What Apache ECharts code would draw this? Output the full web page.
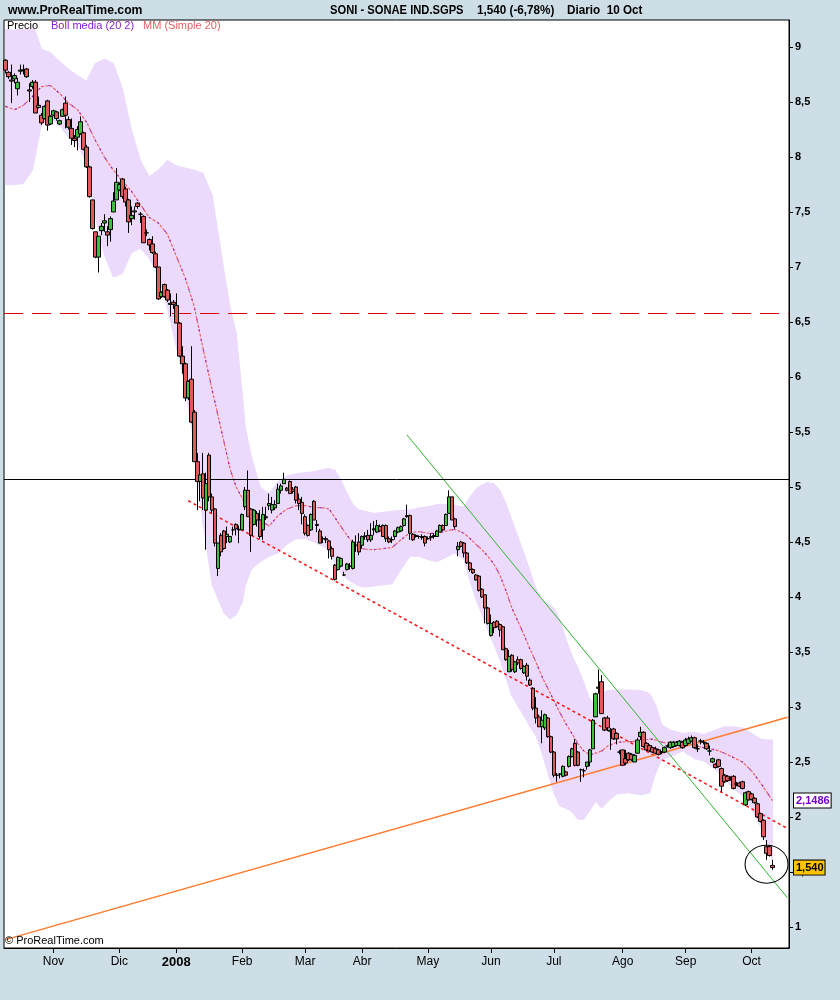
<!DOCTYPE html>
<html>
<head>
<meta charset="utf-8">
<script src="https://cdn.jsdelivr.net/npm/echarts@6/dist/echarts.min.js"></script>
<style>
  html, body { margin: 0; padding: 0; background: #cedee6; }
  #chart { width: 840px; height: 1000px; }
</style>
</head>
<body>
<div id="chart"></div>
<script>
// SONAE IND.SGPS (SONI), daily bars from 10 Oct 2007 to 10 Oct 2008
const opens = [8.88,8.77,8.70,8.71,8.62,8.78,8.79,8.80,8.61,8.64,
  8.68,8.45,8.38,8.35,8.51,8.30,8.38,8.41,8.30,8.37,
  8.49,8.34,8.26,8.17,8.18,8.21,8.22,8.09,7.91,7.61,
  7.32,7.09,7.33,7.40,7.32,7.34,7.50,7.61,7.70,7.80,
  7.71,7.61,7.44,7.50,7.58,7.48,7.46,7.31,7.25,7.21,
  7.12,7.00,6.73,6.84,6.79,6.67,6.68,6.65,6.49,6.19,
  6.12,5.81,5.98,5.68,5.23,5.05,5.12,4.79,5.29,4.91,
  4.80,4.26,4.56,4.60,4.55,4.50,4.61,4.66,4.615,4.61,
  4.82,4.97,4.80,4.66,4.76,4.70,4.61,4.73,4.83,4.79,
  4.81,4.85,4.97,5.03,4.99,5.05,4.98,5.00,4.89,4.86,
  4.73,4.65,4.61,4.87,4.66,4.60,4.53,4.53,4.51,4.44,
  4.29,4.25,4.28,4.20,4.25,4.28,4.26,4.47,4.50,4.47,
  4.55,4.56,4.52,4.61,4.59,4.64,4.65,4.65,4.53,4.52,
  4.55,4.59,4.60,4.65,4.74,4.74,4.57,4.56,4.55,4.55,
  4.55,4.53,4.54,4.55,4.55,4.59,4.65,4.65,4.76,4.91,
  4.71,4.43,4.50,4.49,4.40,4.31,4.25,4.20,4.19,4.07,
  4.02,3.90,3.65,3.77,3.78,3.75,3.73,3.53,3.32,3.47,
  3.32,3.43,3.43,3.31,3.38,3.245,3.17,2.99,2.91,2.82,
  2.81,2.90,2.73,2.59,2.38,2.39,2.37,2.41,2.46,2.55,
  2.67,2.59,2.43,2.42,2.46,2.50,2.62,2.91,3.18,3.23,
  2.90,2.90,2.79,2.80,2.76,2.59,2.61,2.53,2.58,2.57,
  2.50,2.58,2.73,2.77,2.67,2.65,2.63,2.62,2.61,2.59,
  2.59,2.645,2.63,2.64,2.65,2.65,2.68,2.65,2.67,2.69,
  2.72,2.62,2.69,2.68,2.67,2.60,2.50,2.48,2.52,2.44,
  2.38,2.37,2.35,2.37,2.30,2.31,2.32,2.11,2.23,2.21,
  2.17,2.12,2.03,1.97,1.73,1.73,1.56];
const closes = [8.79,8.73,8.69,8.74,8.68,8.79,8.79,8.73,8.60,8.68,
  8.40,8.47,8.31,8.46,8.29,8.37,8.42,8.35,8.33,8.43,
  8.38,8.27,8.17,8.15,8.25,8.32,8.07,7.91,7.64,7.35,
  7.09,7.28,7.37,7.42,7.29,7.44,7.60,7.77,7.75,7.64,
  7.59,7.41,7.47,7.51,7.55,7.48,7.22,7.31,7.20,7.13,
  7.00,6.71,6.77,6.73,6.70,6.66,6.66,6.49,6.19,6.12,
  5.81,5.96,5.59,5.23,5.05,5.11,4.90,5.03,4.91,4.79,
  4.49,4.49,4.41,4.44,4.57,4.55,4.61,4.62,4.61,4.75,
  4.97,4.73,4.56,4.79,4.70,4.55,4.75,4.72,4.85,4.84,
  4.84,4.98,5.01,5.07,4.97,4.94,4.96,4.88,4.85,4.76,
  4.58,4.56,4.75,4.70,4.65,4.49,4.53,4.52,4.43,4.37,
  4.16,4.36,4.35,4.20,4.30,4.28,4.50,4.47,4.41,4.55,
  4.555,4.52,4.56,4.62,4.65,4.60,4.55,4.53,4.50,4.52,
  4.60,4.63,4.64,4.71,4.73,4.58,4.52,4.55,4.55,4.54,
  4.49,4.53,4.55,4.56,4.60,4.65,4.61,4.75,4.91,4.70,
  4.64,4.46,4.46,4.40,4.31,4.25,4.22,4.155,4.06,4.00,
  3.90,3.76,3.76,3.72,3.73,3.70,3.52,3.43,3.46,3.34,
  3.41,3.40,3.35,3.37,3.28,3.20,2.99,2.90,2.82,2.88,
  2.93,2.73,2.59,2.38,2.38,2.39,2.46,2.38,2.55,2.62,
  2.47,2.47,2.43,2.42,2.50,2.61,2.88,3.12,3.17,2.94,
  2.79,2.81,2.78,2.71,2.71,2.59,2.47,2.49,2.52,2.52,
  2.56,2.70,2.77,2.64,2.61,2.60,2.59,2.58,2.57,2.59,
  2.63,2.645,2.68,2.68,2.68,2.69,2.63,2.70,2.71,2.72,
  2.63,2.62,2.69,2.68,2.62,2.60,2.53,2.45,2.46,2.28,
  2.32,2.33,2.35,2.26,2.30,2.28,2.26,2.22,2.155,2.16,
  2.13,2.00,1.96,1.82,1.67,1.65,1.54];
const lows = [8.76,8.71,8.49,8.67,8.56,8.75,8.75,8.72,8.50,8.62,
  8.40,8.44,8.29,8.34,8.24,8.29,8.37,8.33,8.29,8.37,
  8.26,8.25,8.11,8.09,8.06,8.20,8.06,7.90,7.63,7.34,
  7.08,6.95,7.29,7.32,7.19,7.23,7.50,7.61,7.69,7.62,
  7.55,7.31,7.38,7.43,7.53,7.40,7.22,7.28,7.15,7.12,
  6.99,6.70,6.72,6.72,6.68,6.55,6.62,6.49,6.18,6.03,
  5.78,5.79,5.58,5.23,4.79,4.87,4.79,4.43,4.87,4.76,
  4.46,4.19,4.37,4.43,4.49,4.49,4.56,4.56,4.49,4.61,
  4.79,4.73,4.41,4.65,4.64,4.53,4.52,4.70,4.79,4.76,
  4.79,4.85,4.94,5.03,4.96,4.94,4.94,4.85,4.79,4.66,
  4.56,4.55,4.60,4.70,4.59,4.49,4.49,4.49,4.35,4.34,
  4.15,4.24,4.27,4.19,4.24,4.25,4.25,4.41,4.38,4.44,
  4.52,4.50,4.50,4.56,4.58,4.59,4.55,4.50,4.49,4.49,
  4.52,4.58,4.59,4.64,4.72,4.52,4.51,4.54,4.53,4.52,
  4.46,4.52,4.51,4.53,4.55,4.59,4.60,4.65,4.76,4.70,
  4.62,4.37,4.45,4.36,4.30,4.23,4.21,4.15,4.05,3.99,
  3.76,3.75,3.64,3.67,3.72,3.64,3.52,3.42,3.32,3.32,
  3.31,3.38,3.34,3.30,3.24,3.19,2.97,2.85,2.82,2.67,
  2.79,2.72,2.58,2.36,2.32,2.35,2.36,2.37,2.45,2.54,
  2.46,2.46,2.32,2.36,2.43,2.46,2.62,2.91,3.12,2.94,
  2.78,2.78,2.61,2.70,2.66,2.57,2.47,2.47,2.51,2.51,
  2.50,2.58,2.70,2.63,2.60,2.59,2.58,2.57,2.56,2.57,
  2.58,2.63,2.62,2.63,2.64,2.64,2.62,2.64,2.66,2.68,
  2.62,2.59,2.66,2.66,2.61,2.56,2.49,2.44,2.45,2.23,
  2.31,2.32,2.33,2.25,2.28,2.27,2.25,2.10,2.15,2.15,
  2.12,1.99,1.95,1.79,1.61,1.64,1.52];
const highs = [8.89,8.78,8.84,8.76,8.72,8.84,8.84,8.81,8.67,8.70,
  8.70,8.55,8.40,8.47,8.52,8.38,8.43,8.42,8.34,8.44,
  8.55,8.37,8.35,8.20,8.28,8.37,8.23,8.11,7.92,7.61,
  7.32,7.28,7.40,7.48,7.37,7.46,7.68,7.90,7.77,7.81,
  7.73,7.62,7.55,7.55,7.59,7.50,7.47,7.34,7.26,7.28,
  7.14,7.00,6.78,6.85,6.80,6.76,6.70,6.76,6.50,6.28,
  6.13,5.97,6.28,5.70,5.31,5.23,5.31,5.13,5.31,4.94,
  4.81,4.49,4.58,4.61,4.64,4.55,4.64,4.67,4.65,4.76,
  5.00,5.15,4.81,4.80,4.78,4.79,4.82,4.82,4.94,4.91,
  4.88,5.03,5.03,5.13,5.00,5.06,5.00,5.01,4.94,4.91,
  4.75,4.66,4.76,4.88,4.70,4.62,4.55,4.55,4.52,4.46,
  4.30,4.37,4.36,4.23,4.31,4.31,4.52,4.56,4.58,4.56,
  4.59,4.61,4.67,4.69,4.70,4.66,4.66,4.66,4.55,4.55,
  4.61,4.64,4.65,4.72,4.84,4.75,4.58,4.57,4.56,4.57,
  4.56,4.55,4.58,4.58,4.61,4.66,4.66,4.76,4.97,4.91,
  4.72,4.50,4.51,4.50,4.41,4.32,4.26,4.21,4.20,4.08,
  4.02,3.91,3.84,3.78,3.79,3.76,3.74,3.54,3.52,3.48,
  3.42,3.46,3.44,3.38,3.40,3.26,3.18,3.09,2.93,2.97,
  2.94,2.91,2.74,2.60,2.40,2.40,2.47,2.42,2.56,2.63,
  2.71,2.60,2.44,2.44,2.50,2.62,2.89,3.13,3.34,3.29,
  2.91,2.92,2.81,2.81,2.77,2.61,2.61,2.61,2.59,2.58,
  2.57,2.72,2.82,2.78,2.68,2.66,2.64,2.64,2.62,2.60,
  2.64,2.66,2.69,2.69,2.69,2.70,2.69,2.72,2.73,2.74,
  2.73,2.66,2.71,2.70,2.68,2.65,2.54,2.49,2.53,2.45,
  2.39,2.38,2.37,2.38,2.32,2.32,2.33,2.23,2.24,2.22,
  2.18,2.13,2.04,1.98,1.79,1.74,1.61];

// Bollinger bands (20, 2) and their middle line (simple 20-day average), by trading-day index
const bandDay = [0,3,6,9,12,15,18,21,24,27,
  30,33,36,39,42,45,48,51,54,57,
  60,63,66,69,71,73,75,77,79,80,
  82,85,88,91,94,97,100,103,106,108,
  110,112,114,116,118,120,123,126,129,132,
  135,138,141,144,147,150,153,155,157,159,
  161,163,165,167,169,171,173,175,177,179,
  181,183,185,187,189,191,193,195,197,199,
  201,204,208,212,215,217,219,222,226,230,
  233,237,240,243,246,249,252,254,256];
const bandUpper = [9.17,9.15,9.18,9.22,8.98,8.95,8.87,8.80,8.74,8.69,
  8.85,8.89,8.85,8.62,8.25,7.97,7.82,7.88,7.97,7.92,
  7.90,7.88,7.85,7.65,7.30,6.95,6.62,6.40,5.85,5.55,
  5.28,5.00,4.94,5.05,5.10,5.12,5.13,5.14,5.16,5.17,
  5.15,5.06,4.94,4.84,4.79,4.78,4.76,4.77,4.78,4.79,
  4.79,4.81,4.82,4.84,4.84,4.83,4.82,4.91,4.98,5.02,
  5.04,5.03,4.97,4.85,4.70,4.55,4.40,4.24,4.08,3.97,
  3.94,3.90,3.80,3.62,3.47,3.36,3.22,3.07,3.02,3.12,
  3.15,3.155,3.155,3.15,3.12,3.02,2.84,2.79,2.76,2.77,
  2.75,2.79,2.82,2.82,2.81,2.76,2.71,2.70,2.70];
const bandMid = [8.46,8.43,8.47,8.55,8.64,8.65,8.58,8.49,8.43,8.32,
  8.15,8.00,7.88,7.78,7.69,7.57,7.45,7.40,7.30,7.10,
  6.90,6.64,6.25,5.88,5.64,5.40,5.16,5.00,4.90,4.84,
  4.77,4.70,4.645,4.74,4.80,4.83,4.83,4.815,4.81,4.80,
  4.72,4.64,4.56,4.49,4.445,4.436,4.43,4.44,4.45,4.52,
  4.585,4.594,4.58,4.578,4.60,4.615,4.58,4.533,4.48,4.43,
  4.37,4.30,4.20,4.06,3.90,3.78,3.66,3.53,3.41,3.28,
  3.17,3.06,2.95,2.85,2.76,2.67,2.60,2.565,2.58,2.60,
  2.645,2.68,2.685,2.69,2.71,2.70,2.68,2.67,2.68,2.65,
  2.63,2.61,2.58,2.54,2.50,2.42,2.31,2.23,2.1486];
const bandLower = [7.75,7.75,7.76,7.88,8.30,8.35,8.29,8.18,8.12,7.95,
  7.45,7.11,6.91,6.94,7.13,7.17,7.08,6.92,6.63,6.28,
  5.90,5.40,4.65,4.11,3.98,3.85,3.80,3.84,3.95,4.10,
  4.25,4.32,4.37,4.40,4.48,4.53,4.53,4.50,4.46,4.43,
  4.30,4.22,4.16,4.13,4.10,4.09,4.10,4.11,4.12,4.25,
  4.37,4.37,4.34,4.32,4.36,4.40,4.34,4.15,3.98,3.84,
  3.70,3.57,3.43,3.27,3.10,3.01,2.92,2.82,2.74,2.59,
  2.40,2.22,2.10,2.08,2.05,1.98,1.98,2.06,2.14,2.08,
  2.14,2.21,2.22,2.20,2.22,2.40,2.52,2.55,2.60,2.53,
  2.51,2.43,2.34,2.26,2.19,2.08,1.91,1.76,1.60];

// horizontal levels and hand-drawn trend lines: [day index, price]
const resistanceLevel = 6.58;
const supportLevel = 5.07;
const redTrend = [[61, 4.875], [261, 1.896]];
const greenTrend = [[134, 5.473], [261, 1.265]];
const orangeTrend = [[0, 0.885], [261, 2.907]];
const circledPoint = [254, 1.571];

const yTicks = [1, 1.5, 2, 2.5, 3, 3.5, 4, 4.5, 5, 5.5, 6, 6.5, 7, 7.5, 8, 8.5, 9];
const monthNames = ['Ene','Feb','Mar','Abr','May','Jun','Jul','Ago','Sep','Oct','Nov','Dic'];
const holidays = ['2007-12-25','2007-12-26','2008-01-01','2008-03-21','2008-03-24','2008-05-01'];
const emptyDaysAfter = 5;

// trading calendar for the category axis
const tradingDays = [];
(function () {
  const d = new Date(Date.UTC(2007, 9, 10));
  while (tradingDays.length < closes.length) {
    const wd = d.getUTCDay();
    const s = d.toISOString().slice(0, 10);
    if (wd !== 0 && wd !== 6 && holidays.indexOf(s) < 0) tradingDays.push(s);
    d.setUTCDate(d.getUTCDate() + 1);
  }
})();
const categories = tradingDays.slice();
for (let i = 1; i <= emptyDaysAfter; i++) categories.push('+' + i);
const monthStart = new Set();
tradingDays.forEach((s, i) => {
  if (i > 0 && s.slice(5, 7) !== tradingDays[i - 1].slice(5, 7)) monthStart.add(i);
});

const comma = v => String(v).replace('.', ',');
const lastIdx = closes.length - 1;
const lastCloseText = closes[lastIdx].toFixed(3).replace('.', ',');
const lastMidText = comma(bandMid[bandMid.length - 1]);

const FONT = '"Liberation Sans", Arial, sans-serif';

// header pieces, squeezed horizontally to the narrow face of the terminal font
function headerText(x, text, scaleX) {
  return {
    type: 'text', x: x, y: 10, scaleX: scaleX, originX: 0, originY: 0, z: 100,
    style: { text: text, font: 'bold 13px ' + FONT, fill: '#000', verticalAlign: 'middle', align: 'left' }
  };
}

const chart = echarts.init(document.getElementById('chart'));
chart.setOption({
  animation: false,
  backgroundColor: '#cedee6',
  grid: {
    left: 4, right: 51, top: 20, bottom: 52,
    show: true, backgroundColor: '#ffffff', borderColor: '#000000', borderWidth: 1
  },
  xAxis: {
    type: 'category',
    data: categories,
    boundaryGap: true,
    axisLine: { show: true, lineStyle: { color: '#000', width: 1 } },
    axisTick: {
      show: true, alignWithLabel: true, length: 5,
      interval: (i) => monthStart.has(i),
      lineStyle: { color: '#000' }
    },
    axisLabel: {
      interval: (i) => monthStart.has(i),
      margin: 8,
      color: '#000',
      fontFamily: FONT,
      fontSize: 12,
      formatter: (value) => {
        const m = +value.slice(5, 7);
        return m === 1 ? '{y|' + value.slice(0, 4) + '}' : monthNames[m - 1];
      },
      rich: { y: { fontWeight: 'bold', fontSize: 13, fontFamily: FONT, color: '#000' } }
    },
    splitLine: { show: false }
  },
  yAxis: {
    type: 'value',
    position: 'right',
    min: 0.809,
    max: 9.2455,
    axisLine: { show: true, lineStyle: { color: '#000', width: 1 } },
    axisTick: { show: true, length: 4, customValues: yTicks, lineStyle: { color: '#000' } },
    axisLabel: {
      customValues: yTicks,
      formatter: (v) => comma(v),
      color: '#000', fontWeight: 'bold', fontSize: 11, fontFamily: FONT, margin: 6
    },
    splitLine: { show: false }
  },
  series: [
    {
      name: 'Boll bands',
      type: 'custom',
      silent: true,
      z: 1,
      data: bandDay.map((d, i) => [d, bandLower[i], bandUpper[i]]),
      encode: { x: 0, y: [1, 2] },
      renderItem: (params, api) => {
        const i = params.dataIndex;
        if (i >= bandDay.length - 1) return null;
        const a0 = api.coord([bandDay[i], bandUpper[i]]);
        const a1 = api.coord([bandDay[i + 1], bandUpper[i + 1]]);
        const b1 = api.coord([bandDay[i + 1], bandLower[i + 1]]);
        const b0 = api.coord([bandDay[i], bandLower[i]]);
        return {
          type: 'polygon',
          shape: { points: [a0, a1, b1, b0] },
          style: { fill: '#ebdafc', stroke: '#ebdafc', lineWidth: 1 }
        };
      }
    },
    {
      name: 'MM',
      type: 'line',
      z: 3,
      silent: true,
      showSymbol: false,
      data: bandDay.map((d, i) => [d, bandMid[i]]),
      lineStyle: { color: '#ec6464', width: 1.2, type: [3, 1.5] }
    },
    {
      name: 'Boll media',
      type: 'line',
      z: 3,
      silent: true,
      showSymbol: false,
      data: bandDay.map((d, i) => [d, bandMid[i]]),
      lineStyle: { color: '#8a1ed0', width: 1.2, type: [1.5, 9] }
    },
    {
      name: 'Precio',
      type: 'candlestick',
      z: 5,
      barWidth: 4,
      data: opens.map((o, i) => [o, closes[i], lows[i], highs[i]]),
      itemStyle: {
        color: '#3cbf3c', color0: '#de5a5a',
        borderColor: '#000', borderColor0: '#000', borderColorDoji: '#000',
        borderWidth: 1
      },
      markLine: {
        silent: true,
        symbol: ['none', 'none'],
        label: { show: false },
        data: [
          { yAxis: resistanceLevel, lineStyle: { color: '#e00000', width: 1, type: [19, 9] } },
          { yAxis: supportLevel, lineStyle: { color: '#000000', width: 1, type: 'solid' } },
          {
            yAxis: bandMid[bandMid.length - 1],
            lineStyle: { color: 'rgba(0,0,0,0)' },
            label: {
              show: true, position: 'end', distance: 5, formatter: lastMidText,
              color: '#7a00c8', fontWeight: 'bold', fontSize: 11, fontFamily: FONT,
              backgroundColor: '#ffffff', borderColor: '#000', borderWidth: 1, padding: [2, 1, 1, 2]
            }
          },
          {
            yAxis: closes[lastIdx],
            lineStyle: { color: 'rgba(0,0,0,0)' },
            label: {
              show: true, position: 'end', distance: 5, formatter: lastCloseText,
              color: '#000', fontWeight: 'bold', fontSize: 11, fontFamily: FONT,
              backgroundColor: '#ffc400', borderColor: '#000', borderWidth: 1, padding: [2, 1, 1, 2]
            }
          }
        ]
      },
      markPoint: {
        silent: true,
        data: [{
          coord: circledPoint,
          symbol: 'circle',
          symbolSize: [43, 38],
          itemStyle: { color: 'rgba(0,0,0,0)', borderColor: '#000', borderWidth: 1 },
          label: { show: false }
        }]
      }
    },
    {
      name: 'red trend',
      type: 'line', z: 4, silent: true, showSymbol: false,
      data: redTrend,
      lineStyle: { color: '#ff1010', width: 1.5, type: [3, 3] }
    },
    {
      name: 'green trend',
      type: 'line', z: 4, silent: true, showSymbol: false,
      data: greenTrend,
      lineStyle: { color: '#2fb52f', width: 1 }
    },
    {
      name: 'orange trend',
      type: 'line', z: 4, silent: true, showSymbol: false,
      data: orangeTrend,
      lineStyle: { color: '#ff7b2e', width: 1.5 }
    }
  ],
  graphic: [
    headerText(8, 'www.ProRealTime.com', 0.94),
    headerText(330, 'SONI - SONAE IND.SGPS', 0.86),
    headerText(477, lastCloseText + ' (-6,78%)', 0.9),
    headerText(567, 'Diario  10 Oct', 0.9),
    { type: 'rect', z: 90, shape: { x: 5, y: 21, width: 783, height: 8 }, style: { fill: '#ffffff' } },
    { type: 'text', left: 7, top: 20, z: 100,
      style: { text: 'Precio', font: '11px ' + FONT, fill: '#000' } },
    { type: 'text', left: 51, top: 20, z: 100,
      style: { text: 'Boll media (20 2)', font: '11px ' + FONT, fill: '#8a1ed0' } },
    { type: 'text', left: 143, top: 20, z: 100,
      style: { text: 'MM (Simple 20)', font: '11px ' + FONT, fill: '#e06262' } },
    { type: 'text', left: 5, top: 935, z: 100,
      style: { text: '\u00A9 ProRealTime.com', font: '11px ' + FONT, fill: '#000' } }
  ]
});
</script>
</body>
</html>
